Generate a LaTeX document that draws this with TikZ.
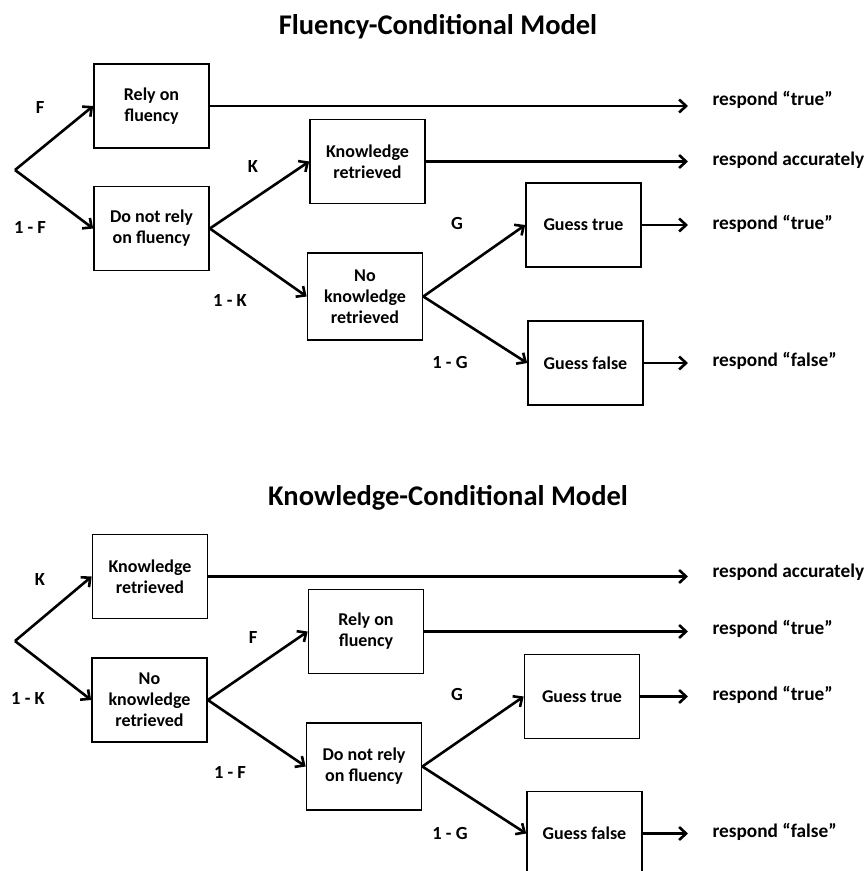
\documentclass[tikz,border=0pt]{standalone}
\usepackage{fontspec}
\setmainfont{Carlito}
\usetikzlibrary{arrows.meta}
\tikzset{
  stage/.style={draw,line width=1.7pt,minimum width=115pt,minimum height=84pt,align=center,
    font=\fontsize{18}{21}\selectfont\bfseries},
  prob/.style={font=\fontsize{18.5}{21}\selectfont\bfseries},
  outcome/.style={anchor=west,font=\fontsize{19.3}{22}\selectfont\bfseries},
  heading/.style={font=\fontsize{28.5}{32}\selectfont\bfseries},
  branch/.style={line width=2.6pt,-{Straight Barb[length=7pt,width=13pt]}},
}
\begin{document}
\begin{tikzpicture}[x=1pt,y=-1pt]
  \useasboundingbox (0,0) rectangle (865,871);
  \node[heading] (title1) at (438,27) {Fluency-Conditional Model};
  \coordinate (root1) at (15,170);
  \node[stage] (rely1) at (151.5,106) {Rely on\\fluency};
  \node[stage] (notrely1) at (151.5,228.5) {Do not rely\\on fluency};
  \node[stage] (know1) at (367.5,161.5) {Knowledge\\retrieved};
  \node[stage,minimum height=87pt] (noknow1) at (365,296.5) {No\\knowledge\\retrieved};
  \node[stage] (gtrue1) at (583.5,225) {Guess true};
  \node[stage] (gfalse1) at (585.5,363) {Guess false};
  \node[prob] (f1) at (40,107) {F};
  \node[prob] (nf1) at (30,227) {1 - F};
  \node[prob] (k1) at (253,166) {K};
  \node[prob] (nk1) at (230,300) {1 - K};
  \node[prob] (g1) at (457,223) {G};
  \node[prob] (ng1) at (450,362) {1 - G};
  \node[outcome] (out1) at (709,100) {respond “true”};
  \node[outcome] (out2) at (709,160) {respond accurately};
  \node[outcome] (out3) at (709,224) {respond “true”};
  \node[outcome] (out4) at (709,361) {respond “false”};
  \draw[branch] (root1) -- (rely1.west);
  \draw[branch] (root1) -- (notrely1.west);
  \draw[branch] (notrely1.east) -- (know1.west);
  \draw[branch] (notrely1.east) -- (noknow1.west);
  \draw[branch] (noknow1.east) -- (gtrue1.west);
  \draw[branch] (noknow1.east) -- (gfalse1.west);
  \draw[branch,shorten >=21pt] (rely1.east) -- (rely1.east -| out1.west);
  \draw[branch,shorten >=21pt] (know1.east) -- (know1.east -| out2.west);
  \draw[branch,shorten >=21pt] (gtrue1.east) -- (gtrue1.east -| out3.west);
  \draw[branch,shorten >=21pt] (gfalse1.east) -- (gfalse1.east -| out4.west);

  \node[heading] (title2) at (448,498) {Knowledge-Conditional Model};
  \coordinate (root2) at (15,641);
  \node[stage] (know2) at (150,576.5) {Knowledge\\retrieved};
  \node[stage] (noknow2) at (149.5,700) {No\\knowledge\\retrieved};
  \node[stage] (rely2) at (366,631.5) {Rely on\\fluency};
  \node[stage,minimum height=87pt] (notrely2) at (364,766.5) {Do not rely\\on fluency};
  \node[stage] (gtrue2) at (582,696.5) {Guess true};
  \node[stage] (gfalse2) at (584.5,833.5) {Guess false};
  \node[prob] (k2) at (40,579) {K};
  \node[prob] (nk2) at (28,698) {1 - K};
  \node[prob] (f2) at (253,637) {F};
  \node[prob] (nf2) at (230,772) {1 - F};
  \node[prob] (g2) at (457,694) {G};
  \node[prob] (ng2) at (450,833) {1 - G};
  \node[outcome] (out5) at (709,572) {respond accurately};
  \node[outcome] (out6) at (709,629) {respond “true”};
  \node[outcome] (out7) at (709,695) {respond “true”};
  \node[outcome] (out8) at (709,832) {respond “false”};
  \draw[branch] (root2) -- (know2.west);
  \draw[branch] (root2) -- (noknow2.west);
  \draw[branch] (noknow2.east) -- (rely2.west);
  \draw[branch] (noknow2.east) -- (notrely2.west);
  \draw[branch] (notrely2.east) -- (gtrue2.west);
  \draw[branch] (notrely2.east) -- (gfalse2.west);
  \draw[branch,shorten >=21pt] (know2.east) -- (know2.east -| out5.west);
  \draw[branch,shorten >=21pt] (rely2.east) -- (rely2.east -| out6.west);
  \draw[branch,shorten >=21pt] (gtrue2.east) -- (gtrue2.east -| out7.west);
  \draw[branch,shorten >=21pt] (gfalse2.east) -- (gfalse2.east -| out8.west);
\end{tikzpicture}
\end{document}
